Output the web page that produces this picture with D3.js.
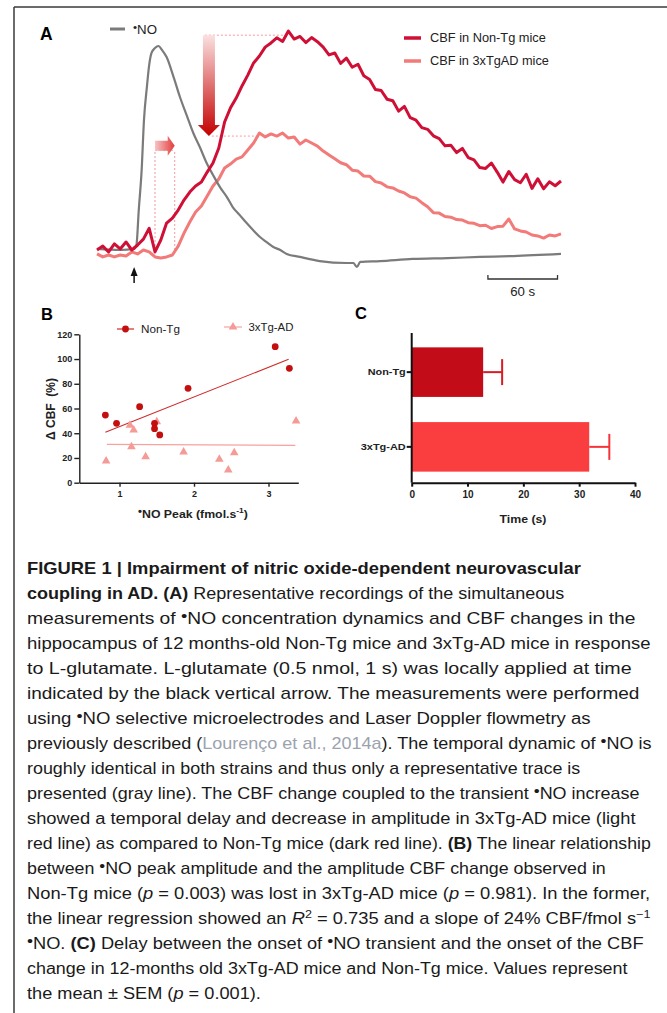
<!DOCTYPE html>
<html>
<head>
<meta charset="utf-8">
<script src="https://cdn.jsdelivr.net/npm/d3@7"></script>
<style>
body { margin: 0; background: #fff; }
svg { display: block; font-family: "Liberation Sans", Arial, sans-serif; }
</style>
</head>
<body>
<svg id="fig" width="667" height="1013"></svg>
<script>
// ---- data ----
// panel A : traces sampled every 5 s, % of the Non-Tg peak
const cbfStep = 5
const nonTgCBF = [0, 1.8, -0.9, 2.8, 0.5, 3.7, 0, 2.3, 5, 10,
	-0.9, 4.6, 12.4, 14.7, 18.4, 23, 26.7, 29.5, 31.3, 35.9,
	40.1, 47, 59, 65.4, 70, 75.6, 80.6, 86.2, 89.4, 93.5,
	95.4, 97.8, 96.1, 100.9, 97.2, 98.4, 95.6, 97.9, 96.0, 93.5,
	89.9, 90.8, 86.0, 88.4, 84.2, 85.6, 80.3, 78.6, 74.0, 73.5,
	69.5, 68.8, 64.0, 66.2, 61.0, 59.8, 56.4, 55.6, 52.6, 51.3,
	48.0, 48.3, 44.9, 46.8, 42.6, 41.5, 38.0, 37.6, 40.1, 35.9,
	31.3, 36.2, 32.4, 31.0, 34.9, 28.4, 32.8, 28.2, 31.4, 29.6,
	31.8]
const tgCBF = [-1.8, -3.2, -2.3, -3.2, -2.3, -2.8, -0.9, -1.8, 0, -0.9,
	-3.2, -3.7, -3.2, -2.3, 1.8, 7.8, 12.9, 17.5, 20.3, 24.9,
	29.5, 32.7, 37.8, 39.6, 41.9, 42.9, 46.1, 49.3, 53.9, 52.1,
	53.5, 52.5, 53.9, 51.6, 52.1, 48.8, 50.7, 49.3, 47.9, 45.6,
	43.8, 42.0, 40.2, 39.3, 36.8, 36.4, 34.1, 34.0, 31.5, 30.9,
	29.1, 28.6, 27.2, 26.3, 24.5, 23.9, 21.8, 19.9, 17.2, 17.0,
	15.4, 15.1, 14.0, 13.8, 12.6, 12.3, 11.2, 11.4, 9.9, 10.8,
	11.0, 14.3, 9.7, 8.8, 8.3, 6.9, 6.5, 5.5, 6.9, 6.5,
	7.4]
const noTime = [0, 20, 32, 34, 36, 38.5, 40.5, 43, 45, 47,
	50, 53, 56, 60, 65.5, 71.5, 77.5, 83, 89, 94.5,
	100, 106, 112, 117, 123, 129, 134.5, 140.5, 146, 152,
	158, 163.5, 175, 192, 215, 221, 224, 227, 244, 272,
	302, 330, 359, 400]
const noValue = [0.5, 0, 0.5, 2.3, 18.4, 36.9, 59.9, 75.1, 85.3, 90.8,
	93.1, 94, 92.2, 88.9, 80.6, 70.5, 61.8, 53.9, 47, 40.1,
	34.6, 29, 24.4, 19.8, 16.1, 12.4, 9.2, 6, 3.7, 1.4,
	0, -1.8, -3.2, -5.1, -6, -6, -7.8, -5.5, -5.1, -4.1,
	-3.7, -3.2, -2.8, -1.8]
const glutamateTime = 32
const onsetTimes = [50, 67]          // CBF onset Non-Tg, 3xTg-AD
const peakLevels = [99, 52.5]        // CBF peak Non-Tg, 3xTg-AD
const scaleBarSeconds = 60

// panel B : scatter
const nonTgPeakNO = [0.81, 0.96, 1.27, 1.47, 1.47, 1.54, 1.92, 3.09, 3.28]
const nonTgDeltaCBF = [54.7, 48.0, 61.5, 48.0, 43.7, 38.6, 76.3, 110, 92.5]
const tgPeakNO = [0.82, 1.14, 1.19, 1.16, 1.35, 1.50, 1.86, 2.34, 2.46, 2.54, 3.37]
const tgDeltaCBF = [17.5, 46.4, 42.6, 29.1, 21.0, 49.3, 24.8, 18.9, 10.3, 24.3, 49.9]
const nonTgFit = [[0.81, 40.8], [3.27, 99.8]]
const tgFit = [[0.83, 31.0], [3.36, 30.2]]
const bTicksX = [1, 2, 3]
const bTicksY = [0, 20, 40, 60, 80, 100, 120]

// panel C : delay bars
const delayGroups = ["Non-Tg", "3xTg-AD"]
const delayMean = [12.8, 31.8]
const delaySem = [3.4, 3.6]
const cTicks = [0, 10, 20, 30, 40]

// ---- colours ----
const darkRed = "#cf0f35"
const lightRed = "#f27a78"
const grey = "#7b7b7b"
const dotRed = "#c40f0f"
const triPink = "#f59a96"

const svg = d3.select("#fig")

function squeeze(t, target) {
	const w = t.node().getComputedTextLength()
	const x = +t.attr("x")
	const k = target / w
	t.attr("transform", `translate(${x},0) scale(${k},1) translate(${-x},0)`)
}

// frame
svg.append("line").attr("x1", 14).attr("x2", 14).attr("y1", 7).attr("y2", 1013)
	.attr("stroke", "#3a3a3a").attr("stroke-width", 1.5)
svg.append("line").attr("x1", 14).attr("x2", 667).attr("y1", 7).attr("y2", 7)
	.attr("stroke", "#3a3a3a").attr("stroke-width", 1.5)

// ================= panel A =================
const gA = svg.append("g").classed("panelA", true)
const xA = d3.scaleLinear().domain([0, 400]).range([97, 561])
const yA = d3.scaleLinear().domain([0, 100]).range([250, 33])
const cbfTime = nonTgCBF.map((v, i) => i * cbfStep)

gA.append("text").text("A").attr("x", 40).attr("y", 40)
	.attr("font-weight", "bold").attr("font-size", 17.5)

const defs = svg.append("defs")
const gDown = defs.append("linearGradient").attr("id", "gDown")
	.attr("x1", 0).attr("x2", 0).attr("y1", 0).attr("y2", 1)
gDown.append("stop").attr("offset", 0).attr("stop-color", "#fbe0e0")
gDown.append("stop").attr("offset", 1).attr("stop-color", "#c40000")
const gRight = defs.append("linearGradient").attr("id", "gRight")
	.attr("x1", 0).attr("x2", 1).attr("y1", 0).attr("y2", 0)
gRight.append("stop").attr("offset", 0).attr("stop-color", "#f7c4c4")
gRight.append("stop").attr("offset", 1).attr("stop-color", "#e23c3c")

const dotted = (x1, y1, x2, y2) => gA.append("line")
	.attr("x1", x1).attr("y1", y1).attr("x2", x2).attr("y2", y2)
	.attr("stroke", "#f39a9a").attr("stroke-width", 1).attr("stroke-dasharray", "2,2")

// dotted guides of the amplitude arrow
dotted(xA(93), yA(peakLevels[0]), xA(164), yA(peakLevels[0]))
dotted(xA(99), yA(peakLevels[1]), xA(140), yA(peakLevels[1]))
// dotted guides of the delay arrow
dotted(xA(onsetTimes[0]), yA(0), xA(onsetTimes[0]), yA(46))
dotted(xA(onsetTimes[1]), yA(0), xA(onsetTimes[1]), yA(46))
dotted(xA(onsetTimes[0]), yA(46), xA(onsetTimes[1]), yA(46))

// big down arrow (amplitude loss)
{
	const cx = xA(96.5), top = yA(peakLevels[0]), tip = yA(peakLevels[1])
	const hw = 6, hh = 11, hb = 11
	const p = d3.path()
	p.moveTo(cx - hw, top); p.lineTo(cx + hw, top); p.lineTo(cx + hw, tip - hh)
	p.lineTo(cx + hb, tip - hh); p.lineTo(cx, tip); p.lineTo(cx - hb, tip - hh)
	p.lineTo(cx - hw, tip - hh); p.closePath()
	gA.append("path").attr("d", p.toString()).attr("fill", "url(#gDown)")
}
// small right arrow (onset delay)
{
	const y0 = yA(48), x0 = xA(onsetTimes[0]), x1 = xA(onsetTimes[1])
	const p = d3.path()
	p.moveTo(x0, y0 - 5); p.lineTo(x1 - 7, y0 - 5); p.lineTo(x1 - 7, y0 - 10)
	p.lineTo(x1, y0); p.lineTo(x1 - 7, y0 + 10); p.lineTo(x1 - 7, y0 + 5)
	p.lineTo(x0, y0 + 5); p.closePath()
	gA.append("path").attr("d", p.toString()).attr("fill", "url(#gRight)")
}

const lineCBF = d3.line().x((d, i) => xA(cbfTime[i])).y(d => yA(d))
gA.append("path").datum(tgCBF).attr("d", lineCBF)
	.attr("fill", "none").attr("stroke", lightRed).attr("stroke-width", 3).attr("stroke-linejoin", "round")
gA.append("path").datum(noValue)
	.attr("d", d3.line().x((d, i) => xA(noTime[i])).y(d => yA(d)).curve(d3.curveMonotoneX))
	.attr("fill", "none").attr("stroke", grey).attr("stroke-width", 2.2)
gA.append("path").datum(nonTgCBF).attr("d", lineCBF)
	.attr("fill", "none").attr("stroke", darkRed).attr("stroke-width", 3).attr("stroke-linejoin", "round")

// glutamate arrow
{
	const x = xA(glutamateTime)
	gA.append("line").attr("x1", x).attr("x2", x).attr("y1", 272).attr("y2", 283)
		.attr("stroke", "#111").attr("stroke-width", 1.5)
	gA.append("path").attr("d", `M${x},267 L${x + 3.5},276 L${x - 3.5},276 Z`).attr("fill", "#111")
}

// scale bar
{
	const x0 = xA(337), x1 = xA(337 + scaleBarSeconds)
	gA.append("path").attr("d", `M${x0},275 V279 H${x1} V275`)
		.attr("fill", "none").attr("stroke", "#333").attr("stroke-width", 1.3)
	const t = gA.append("text").text("60 s").attr("x", (x0 + x1) / 2).attr("y", 296)
		.attr("text-anchor", "middle").attr("font-size", 12.5).attr("fill", "#222")
	squeeze(t, 25)
}

// legends
gA.append("line").attr("x1", 110).attr("x2", 125).attr("y1", 29).attr("y2", 29)
	.attr("stroke", grey).attr("stroke-width", 3)
{
	const t = gA.append("text").attr("x", 133).attr("y", 34).attr("font-size", 12.5).attr("fill", "#222")
	t.append("tspan").text("•").attr("font-size", 11).attr("dy", -3)
	t.append("tspan").text("NO").attr("dy", 3)
	squeeze(t, 24)
}
const legA = [["CBF in Non-Tg mice", darkRed, 38, 116], ["CBF in 3xTgAD mice", lightRed, 61, 119]]
legA.forEach(d => {
	gA.append("line").attr("x1", 404).attr("x2", 421).attr("y1", d[2]).attr("y2", d[2])
		.attr("stroke", d[1]).attr("stroke-width", 3.5)
	const t = gA.append("text").text(d[0]).attr("x", 430).attr("y", d[2] + 4.5)
		.attr("font-size", 12.5).attr("fill", "#222")
	squeeze(t, d[3])
})

// ================= panel B =================
const gB = svg.append("g").classed("panelB", true)
const xB = d3.scaleLinear().domain([0.46, 3.4]).range([79.3, 298.3])
const yB = d3.scaleLinear().domain([0, 120]).range([482.7, 334.3])

gB.append("text").text("B").attr("x", 41).attr("y", 320)
	.attr("font-weight", "bold").attr("font-size", 16.5)

const axYB = gB.append("g").attr("transform", "translate(79.3,0)")
	.call(d3.axisLeft(yB).tickValues(bTicksY).tickSize(5).tickSizeOuter(0).tickPadding(2))
const axXB = gB.append("g").attr("transform", "translate(0,482.7)")
	.call(d3.axisBottom(xB).tickValues(bTicksX).tickFormat(d3.format("d"))
		.tickSize(4).tickSizeOuter(0).tickPadding(4))
;[axYB, axXB].forEach(a => {
	a.selectAll("path, line").attr("stroke", "#222").attr("stroke-width", 1.4)
	a.selectAll("text").attr("font-size", 9).attr("font-weight", "bold").attr("fill", "#222")
		.attr("font-family", "Liberation Sans, Arial, sans-serif")
})

const fitLine = d3.line().x(d => xB(d[0])).y(d => yB(d[1]))
gB.append("path").datum(nonTgFit).attr("d", fitLine).attr("stroke", "#d02a2a").attr("stroke-width", 1.1)
gB.append("path").datum(tgFit).attr("d", fitLine).attr("stroke", "#f5a3a0").attr("stroke-width", 1.3)

const tri = d3.symbol(d3.symbolTriangle, 32)
gB.selectAll("path.tg").data(tgPeakNO).join("path").classed("tg", true)
	.attr("d", tri).attr("fill", triPink)
	.attr("transform", (d, i) => `translate(${xB(d)},${yB(tgDeltaCBF[i])})`)
gB.selectAll("circle.ntg").data(nonTgPeakNO).join("circle").classed("ntg", true)
	.attr("cx", d => xB(d)).attr("cy", (d, i) => yB(nonTgDeltaCBF[i])).attr("r", 3.4)
	.attr("fill", dotRed)

// legend B
gB.append("line").attr("x1", 117).attr("x2", 134).attr("y1", 329).attr("y2", 329)
	.attr("stroke", "#d02a2a").attr("stroke-width", 1.2)
gB.append("circle").attr("cx", 125.5).attr("cy", 329).attr("r", 3.4).attr("fill", dotRed)
squeeze(gB.append("text").text("Non-Tg").attr("x", 141).attr("y", 333)
	.attr("font-size", 11.5).attr("fill", "#222"), 39)
gB.append("line").attr("x1", 224).attr("x2", 242).attr("y1", 327).attr("y2", 327)
	.attr("stroke", "#f5a3a0").attr("stroke-width", 1.2)
gB.append("path").attr("d", tri).attr("fill", triPink).attr("transform", "translate(233,327)")
squeeze(gB.append("text").text("3xTg-AD").attr("x", 248.5).attr("y", 331)
	.attr("font-size", 11.5).attr("fill", "#222"), 45)

{
	const t = gB.append("text").attr("x", 193).attr("y", 518).attr("text-anchor", "middle")
		.attr("font-size", 11).attr("font-weight", "bold").attr("fill", "#222")
	t.append("tspan").text("•").attr("font-size", 10).attr("dy", -3)
	t.append("tspan").text("NO Peak (fmol.s").attr("dy", 3)
	t.append("tspan").text("-1").attr("font-size", 7.5).attr("dy", -5)
	t.append("tspan").text(")").attr("dy", 5)
	squeeze(t, 110)
}
gB.append("text").text("Δ CBF  (%)").attr("x", 0).attr("y", 0)
	.attr("text-anchor", "middle").attr("font-size", 12).attr("font-weight", "bold")
	.attr("fill", "#222").attr("xml:space", "preserve")
	.attr("transform", "translate(55,409) rotate(-90)")

// ================= panel C =================
const gC = svg.append("g").classed("panelC", true)
const xC = d3.scaleLinear().domain([0, 40]).range([411.7, 635])
const yC = d3.scaleBand().domain(delayGroups).range([336, 483]).paddingInner(0.337).paddingOuter(0.152)

gC.append("text").text("C").attr("x", 355).attr("y", 318.5)
	.attr("font-weight", "bold").attr("font-size", 16.5)

const barCol = ["#c20c17", "#fa3d3f"]
const errCol = ["#d81c24", "#f5343a"]
gC.selectAll("rect.bar").data(delayMean).join("rect").classed("bar", true)
	.attr("x", xC(0)).attr("y", (d, i) => yC(delayGroups[i]))
	.attr("width", d => xC(d) - xC(0)).attr("height", yC.bandwidth())
	.attr("fill", (d, i) => barCol[i])
delayMean.forEach((m, i) => {
	const yc = yC(delayGroups[i]) + yC.bandwidth() / 2
	gC.append("line").attr("x1", xC(m)).attr("x2", xC(m + delaySem[i])).attr("y1", yc).attr("y2", yc)
		.attr("stroke", errCol[i]).attr("stroke-width", 2)
	gC.append("line").attr("x1", xC(m + delaySem[i])).attr("x2", xC(m + delaySem[i]))
		.attr("y1", yc - 13).attr("y2", yc + 13).attr("stroke", errCol[i]).attr("stroke-width", 2)
})

const axXC = gC.append("g").attr("transform", "translate(0,482.7)")
	.call(d3.axisBottom(xC).tickValues(cTicks).tickSize(4).tickSizeOuter(0).tickPadding(4))
const axYC = gC.append("g").attr("transform", "translate(411.7,0)")
	.call(d3.axisLeft(yC).tickSize(5).tickSizeOuter(0).tickPadding(3))
axYC.select("path.domain").attr("d", "M0,333V482.7")
;[axXC, axYC].forEach(a => {
	a.selectAll("path, line").attr("stroke", "#111").attr("stroke-width", 2)
	a.selectAll("text").attr("font-weight", "bold").attr("fill", "#222")
		.attr("font-family", "Liberation Sans, Arial, sans-serif")
})
axXC.selectAll("text").attr("font-size", 10)
axYC.selectAll("text").attr("font-size", 9.5).each(function (d, i) {
	const t = d3.select(this)
	t.attr("x", -6)
	squeeze(t, [38, 45][i])
})
squeeze(gC.append("text").text("Time (s)").attr("x", 523).attr("y", 523).attr("text-anchor", "middle")
	.attr("font-size", 11).attr("font-weight", "bold").attr("fill", "#222"), 47)

// ================= caption =================
const caption = [
	[["FIGURE 1 | Impairment of nitric oxide-dependent neurovascular", "b"]],
	[["coupling in AD. (A)", "b"], [" Representative recordings of the simultaneous"]],
	[["measurements of "], ["•", "dot"], ["NO concentration dynamics and CBF changes in the"]],
	[["hippocampus of 12 months-old Non-Tg mice and 3xTg-AD mice in response"]],
	[["to L-glutamate. L-glutamate (0.5 nmol, 1 s) was locally applied at time"]],
	[["indicated by the black vertical arrow. The measurements were performed"]],
	[["using "], ["•", "dot"], ["NO selective microelectrodes and Laser Doppler flowmetry as"]],
	[["previously described ("], ["Lourenço et al., 2014a", "link"], ["). The temporal dynamic of "], ["•", "dot"], ["NO is"]],
	[["roughly identical in both strains and thus only a representative trace is"]],
	[["presented (gray line). The CBF change coupled to the transient "], ["•", "dot"], ["NO increase"]],
	[["showed a temporal delay and decrease in amplitude in 3xTg-AD mice (light"]],
	[["red line) as compared to Non-Tg mice (dark red line). "], ["(B)", "b"], [" The linear relationship"]],
	[["between "], ["•", "dot"], ["NO peak amplitude and the amplitude CBF change observed in"]],
	[["Non-Tg mice ("], ["p", "i"], [" = 0.003) was lost in 3xTg-AD mice ("], ["p", "i"], [" = 0.981). In the former,"]],
	[["the linear regression showed an "], ["R", "i"], ["2", "sup"], [" = 0.735 and a slope of 24% CBF/fmol s"], ["−1", "sup"]],
	[["•", "dot"], ["NO. "], ["(C)", "b"], [" Delay between the onset of "], ["•", "dot"], ["NO transient and the onset of the CBF"]],
	[["change in 12-months old 3xTg-AD mice and Non-Tg mice. Values represent"]],
	[["the mean ± SEM ("], ["p", "i"], [" = 0.001)."]]
]
const captionEnds = [581, 565, 636, 651, 632, 640, 591, 652, 581, 640, 636, 651, 606, 651, 651, 644, 628, 261]

const gCap = svg.append("g").classed("caption", true)
caption.forEach((segs, li) => {
	const t = gCap.append("text").attr("x", 27).attr("y", 574 + li * 25)
		.attr("font-size", 16).attr("fill", "#1a1a1a").attr("xml:space", "preserve")
	let shift = 0
	segs.forEach(s => {
		const kind = s[1]
		const want = kind === "sup" ? -6 : kind === "dot" ? -3 : 0
		const ts = t.append("tspan").text(s[0]).attr("dy", want - shift)
		shift = want
		if (kind === "b") ts.attr("font-weight", "bold")
		if (kind === "i") ts.attr("font-style", "italic")
		if (kind === "sup") ts.attr("font-size", 11)
		if (kind === "dot") ts.attr("font-size", 15)
		if (kind === "link") ts.attr("fill", "#9ba3ae")
	})
	squeeze(t, captionEnds[li] - 27)
})
</script>
</body>
</html>
